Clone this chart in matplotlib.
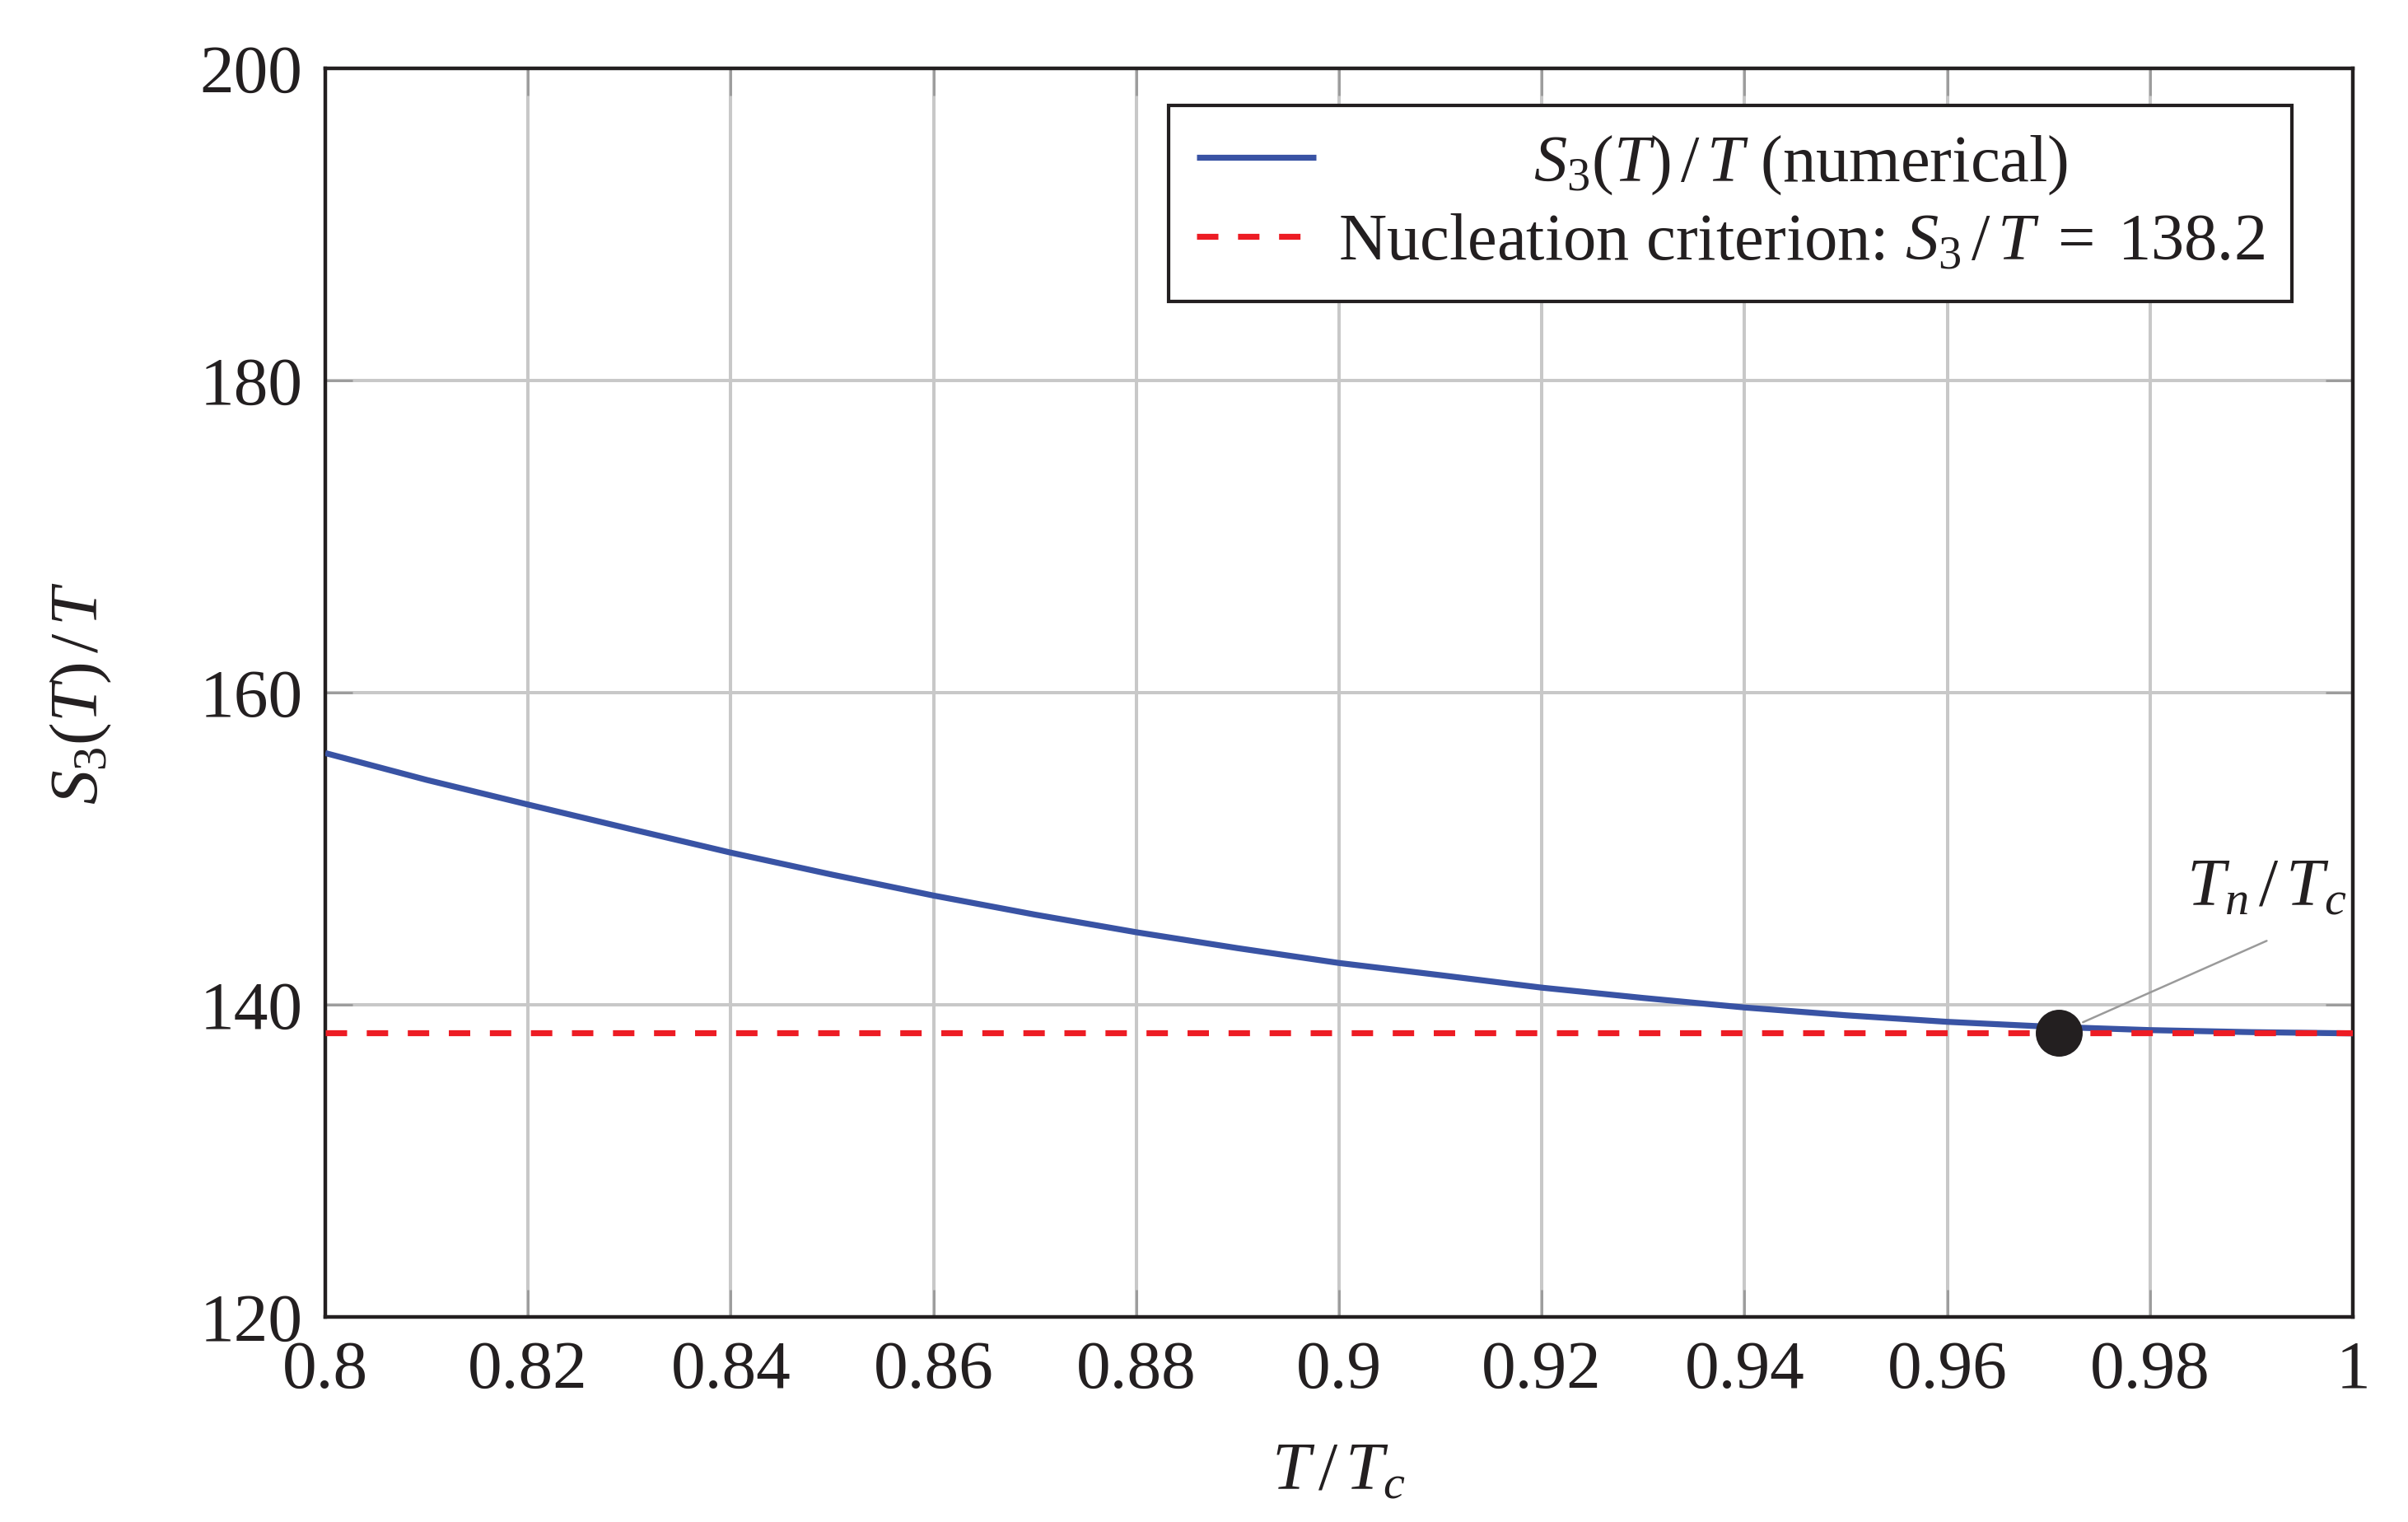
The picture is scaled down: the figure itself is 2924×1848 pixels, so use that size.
import matplotlib
matplotlib.use("Agg")
import matplotlib.pyplot as plt
from matplotlib.transforms import Affine2D

plt.rcParams['font.family'] = ['Liberation Serif', 'DejaVu Serif']
plt.rcParams['mathtext.fontset'] = 'custom'
plt.rcParams['mathtext.rm'] = 'Liberation Serif'
plt.rcParams['mathtext.it'] = 'Liberation Serif:italic'
plt.rcParams['mathtext.bf'] = 'Liberation Serif:bold'

# ---------------- data ----------------
T_ratio = [0.80, 0.81, 0.82, 0.83, 0.84, 0.85, 0.86, 0.87, 0.88, 0.89, 0.90,
           0.91, 0.92, 0.93, 0.94, 0.95, 0.96, 0.97, 0.98, 0.99, 1.00]
S3_over_T = [156.13, 154.41, 152.83, 151.28, 149.75, 148.34, 147.00, 145.78,
             144.65, 143.63, 142.68, 141.90, 141.10, 140.44, 139.83, 139.33,
             138.91, 138.60, 138.38, 138.25, 138.17]
criterion = 138.2
Tn_ratio = 0.971

xticks = [0.80, 0.82, 0.84, 0.86, 0.88, 0.90, 0.92, 0.94, 0.96, 0.98, 1.00]
xticklabels = ['0.8', '0.82', '0.84', '0.86', '0.88', '0.9', '0.92', '0.94',
               '0.96', '0.98', '1']
yticks = [120, 140, 160, 180, 200]
yticklabels = ['120', '140', '160', '180', '200']

label_curve = r'$S_3(T)\,/\,T$ (numerical)'
label_crit = r'Nucleation criterion: $S_3\,/\,T\;=\;138.2$'

# ---------------- style ----------------
INK = '#231F20'
BLUE = '#3953A4'
RED = '#ED1C24'
GRID = '#C8C8C8'
TICK = '#9A9A9A'

fig = plt.figure(figsize=(14.62, 9.24), dpi=200)
ax = fig.add_axes([0.1351, 0.1347, 0.8420, 0.8204])

ax.plot(T_ratio, S3_over_T, color=BLUE, lw=2.6, label=label_curve,
        solid_capstyle='butt', zorder=3)
ax.axhline(criterion, color=RED, lw=2.6, dashes=(3.6, 3.3),
           label=label_crit, zorder=3)
ax.plot([Tn_ratio], [criterion], 'o', color=INK, ms=19.5, zorder=5)

ax.annotate('', xy=(Tn_ratio, criterion), xytext=(Tn_ratio + 0.0205, 144.1),
            arrowprops=dict(arrowstyle='-', color='#9A9A9A', lw=0.9,
                            shrinkA=0, shrinkB=11.5), zorder=4)
ax.text(Tn_ratio + 0.0205, 146.37, r'$T_n\,/\,T_c$', ha='center',
        va='baseline', fontsize=30, color=INK, zorder=6)

ax.set_xlim(0.8, 1.0)
ax.set_ylim(120, 200)
ax.set_xticks(xticks)
ax.set_xticklabels(xticklabels)
ax.set_yticks(yticks)
ax.set_yticklabels(yticklabels)

ax.tick_params(axis='both', which='major', direction='in', length=12,
               width=1.0, color=TICK, labelsize=30, labelcolor=INK, pad=10,
               top=True, right=True)
ax.grid(True, color=GRID, lw=1.45)
ax.set_axisbelow(True)
for sp in ax.spines.values():
    sp.set_color(INK)
    sp.set_linewidth(1.6)

ax.set_xlabel(r'$T\,/\,T_c$', fontsize=30, color=INK)
ax.set_ylabel(r'$S_3(T)\,/\,T$', fontsize=30, color=INK)
ax.xaxis.set_label_coords(0.5, -0.100)
ax.yaxis.set_label_coords(-0.1045, 0.5)

leg = ax.legend(loc='upper right', bbox_to_anchor=(0.97, 0.97),
                borderaxespad=0, frameon=True, fancybox=False,
                edgecolor=INK, framealpha=1, fontsize=29,
                handlelength=1.8, handletextpad=0.33, borderpad=0.42,
                labelspacing=0.25)
leg.get_frame().set_linewidth(1.5)
for t in leg.get_texts():
    t.set_color(INK)

# centre the first legend label within the text column
fig.canvas.draw()
r = fig.canvas.get_renderer()
t0, t1 = leg.get_texts()
dx = (t1.get_window_extent(r).width - t0.get_window_extent(r).width) / 2
t0.set_transform(t0.get_transform() + Affine2D().translate(dx, 0))

fig.savefig('out.png', dpi=200, facecolor='white')
